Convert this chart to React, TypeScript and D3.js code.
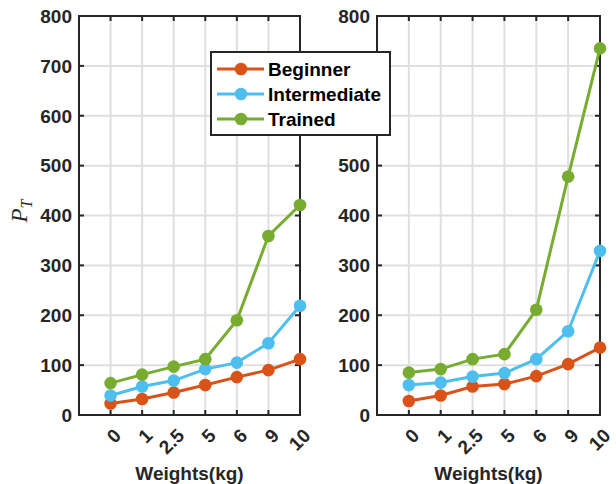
import React from 'react'
import * as d3 from 'd3'

const weights = ['0', '1', '2.5', '5', '6', '9', '10']
const yTicks = [0, 100, 200, 300, 400, 500, 600, 700, 800]
const seriesNames = ['Beginner', 'Intermediate', 'Trained']
const colors = ['#D95319', '#4DBEEE', '#77AC30']

// left panel
const leftBeginner = [23, 32, 45, 60, 76, 90, 112]
const leftIntermediate = [39, 57, 69, 92, 105, 144, 219]
const leftTrained = [64, 81, 97, 112, 190, 359, 421]

// right panel
const rightBeginner = [28, 39, 57, 62, 78, 102, 135]
const rightIntermediate = [60, 65, 77, 84, 112, 168, 329]
const rightTrained = [85, 92, 112, 122, 211, 478, 735]

const W = 616
const H = 484
const top = 16
const bottom = 415
const axisColor = '#262626'
const gridColor = '#dfdfdf'
const font = '"Liberation Sans", Arial, sans-serif'

const y = d3.scaleLinear().domain([0, 800]).range([bottom, top])

function Panel({ x0, x1, series, hidden = [] }: { x0: number; x1: number; series: number[][]; hidden?: number[] }) {
  const x = d3.scaleLinear().domain([0, 7]).range([x0, x1])
  const line = d3
    .line<number>()
    .x((d, i) => x(i + 1))
    .y(d => y(d))
  return (
    <g>
      {/* grid */}
      {weights.map((w, i) => (
        <line key={'gx' + i} x1={x(i + 1)} x2={x(i + 1)} y1={top} y2={bottom} stroke={gridColor} strokeWidth={2} />
      ))}
      {yTicks.map(t => (
        <line key={'gy' + t} x1={x0} x2={x1} y1={y(t)} y2={y(t)} stroke={gridColor} strokeWidth={2} />
      ))}
      {/* ticks */}
      {weights.map((w, i) => (
        <g key={'tx' + i}>
          <line x1={x(i + 1)} x2={x(i + 1)} y1={bottom} y2={bottom - 5} stroke={axisColor} strokeWidth={2} />
          <line x1={x(i + 1)} x2={x(i + 1)} y1={top} y2={top + 5} stroke={axisColor} strokeWidth={2} />
        </g>
      ))}
      {yTicks.map(t => (
        <g key={'ty' + t}>
          <line x1={x0} x2={x0 + 5} y1={y(t)} y2={y(t)} stroke={axisColor} strokeWidth={2} />
          <line x1={x1} x2={x1 - 5} y1={y(t)} y2={y(t)} stroke={axisColor} strokeWidth={2} />
        </g>
      ))}
      <rect x={x0} y={top} width={x1 - x0} height={bottom - top} fill="none" stroke={axisColor} strokeWidth={2} />
      {/* tick labels (those under the legend are not drawn) */}
      {yTicks
        .filter(t => !hidden.includes(t))
        .map(t => (
          <text
            key={'ly' + t}
            x={x0 - 7}
            y={y(t)}
            dy="0.36em"
            textAnchor="end"
            fontFamily={font}
            fontWeight="bold"
            fontSize={19}
            fill={axisColor}
          >
            {t}
          </text>
        ))}
      {weights.map((w, i) => (
        <text
          key={'lx' + i}
          transform={`translate(${x(i + 1) + 2},${bottom + 12}) rotate(-45)`}
          textAnchor="end"
          dy="0.72em"
          fontFamily={font}
          fontWeight="bold"
          fontSize={19}
          fill={axisColor}
        >
          {w}
        </text>
      ))}
      <text
        x={(x0 + x1) / 2}
        y={480}
        textAnchor="middle"
        fontFamily={font}
        fontWeight="bold"
        fontSize={19}
        fill={axisColor}
      >
        Weights(kg)
      </text>
      {/* data */}
      {series.map((s, k) => (
        <g key={'s' + k}>
          <path d={line(s) || ''} fill="none" stroke={colors[k]} strokeWidth={3} />
          {s.map((v, i) => (
            <circle key={i} cx={x(i + 1)} cy={y(v)} r={6.3} fill={colors[k]} />
          ))}
        </g>
      ))}
    </g>
  )
}

export default function App() {
  const lx = 211
  const ly = 52
  const rows = d3.scaleLinear().domain([0, 2]).range([69, 119])
  return (
    <svg width={W} height={H} style={{ position: 'absolute', left: 0, top: 0, background: '#fff' }}>
      <Panel x0={79} x1={300} series={[leftBeginner, leftIntermediate, leftTrained]} />
      <Panel x0={377} x1={600} series={[rightBeginner, rightIntermediate, rightTrained]} hidden={[600, 700]} />
      <text
        transform="translate(27,211) rotate(-90)"
        textAnchor="middle"
        fontFamily='"Liberation Serif", "DejaVu Serif", serif'
        fontStyle="italic"
        fontSize={23}
        fill={axisColor}
      >
        P<tspan dy={5} fontSize={16}>T</tspan>
      </text>
      {/* legend */}
      <rect x={lx} y={ly} width={179} height={83} fill="#fff" stroke={axisColor} strokeWidth={2} />
      {seriesNames.map((n, k) => (
        <g key={n}>
          <line x1={217} x2={264} y1={rows(k)} y2={rows(k)} stroke={colors[k]} strokeWidth={3} />
          <circle cx={241} cy={rows(k)} r={6.3} fill={colors[k]} />
          <text x={268} y={rows(k)} dy="0.36em" fontFamily={font} fontWeight="bold" fontSize={19} fill="#000">
            {n}
          </text>
        </g>
      ))}
    </svg>
  )
}
